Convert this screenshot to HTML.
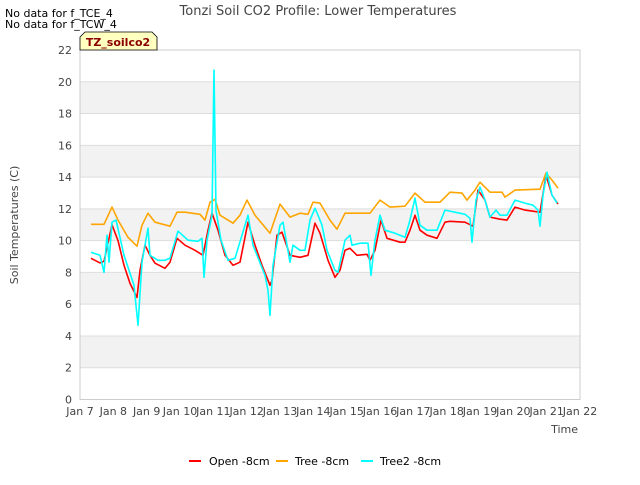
<!DOCTYPE html>
<html><head><meta charset="utf-8"><style>
body{margin:0;background:#fff;width:640px;height:480px;overflow:hidden}
svg{font-family:"DejaVu Sans","Liberation Sans",sans-serif}
</style></head><body>
<svg id="chart" width="640" height="480">
<text x="5" y="17" font-size="11" fill="#000">No data for f_TCE_4</text>
<text x="5" y="28" font-size="11" fill="#000">No data for f_TCW_4</text>
<text x="318" y="15" font-size="13" fill="#444" text-anchor="middle">Tonzi Soil CO2 Profile: Lower Temperatures</text>
<g id="bands"></g><g id="grid"></g><g id="series"></g>
<rect x="80" y="50" width="500" height="349.5" fill="none" stroke="#ccc"/>
<g id="yticks"></g><g id="xticks"></g>
<text transform="translate(18,225) rotate(-90)" font-size="11" fill="#444" text-anchor="middle">Soil Temperatures (C)</text>
<text x="578" y="433" font-size="11" fill="#444" text-anchor="end">Time</text>
<g>
<path d="M80,50 L80,37 L85,32 L152,32 L157,37 L157,50 Z" fill="#ffffc0" stroke="#000" stroke-width="0.8"/>
<text x="118" y="46" font-size="11" font-weight="bold" fill="#8b0000" text-anchor="middle">TZ_soilco2</text>
</g>
<g>
<g><line x1="189" y1="461" x2="201" y2="461" stroke="#f00" stroke-width="2"/><text x="209" y="465" font-size="11" fill="#000">Open -8cm</text></g>
<g><line x1="276" y1="461" x2="288" y2="461" stroke="#ffa500" stroke-width="2"/><text x="295" y="465" font-size="11" fill="#000">Tree -8cm</text></g>
<g><line x1="361" y1="461" x2="373" y2="461" stroke="#0ff" stroke-width="2"/><text x="380" y="465" font-size="11" fill="#000">Tree2 -8cm</text></g>
</g>
</svg>
<script>
const xTickLabels=["Jan 7","Jan 8","Jan 9","Jan 10","Jan 11","Jan 12","Jan 13","Jan 14","Jan 15","Jan 16","Jan 17","Jan 18","Jan 19","Jan 20","Jan 21","Jan 22"];
const yTicks=[0,2,4,6,8,10,12,14,16,18,20,22];
const openDays=[0.33,0.60,0.72,0.96,1.14,1.32,1.50,1.71,1.80,1.95,2.10,2.25,2.55,2.70,2.91,3.15,3.45,3.69,3.84,3.96,4.14,4.35,4.59,4.80,5.04,5.25,5.46,5.70,5.76,5.91,6.06,6.30,6.60,6.84,7.05,7.20,7.44,7.65,7.80,7.95,8.10,8.31,8.61,8.70,8.85,9.03,9.21,9.60,9.75,9.90,10.05,10.20,10.41,10.71,10.95,11.10,11.55,11.79,11.94,12.15,12.30,12.60,12.81,13.05,13.35,13.80,13.98,14.16,14.34];
const openVals=[8.89,8.6,8.7,11.0,10.0,8.45,7.31,6.43,8.13,9.71,9.08,8.58,8.26,8.64,10.15,9.71,9.39,9.08,10.66,11.73,10.66,9.08,8.45,8.64,11.16,9.71,8.45,7.19,7.5,10.34,10.53,9.08,8.95,9.08,11.1,10.47,8.76,7.69,8.13,9.39,9.52,9.08,9.14,8.76,9.39,11.29,10.15,9.9,9.9,10.66,11.6,10.66,10.34,10.15,11.16,11.22,11.16,10.91,13.18,12.55,11.48,11.35,11.29,12.11,11.92,11.79,14.12,12.86,12.3];
const treeDays=[0.33,0.72,0.96,1.14,1.44,1.71,1.86,2.04,2.25,2.70,2.91,3.15,3.60,3.75,3.90,4.05,4.20,4.59,4.80,5.01,5.25,5.70,6.00,6.30,6.60,6.84,6.99,7.20,7.50,7.71,7.95,8.25,8.70,9.00,9.30,9.75,10.05,10.35,10.80,11.10,11.46,11.61,11.85,12.00,12.30,12.66,12.75,13.05,13.80,13.98,14.16,14.34];
const treeVals=[11.03,11.03,12.11,11.29,10.21,9.65,10.97,11.73,11.16,10.91,11.79,11.79,11.66,11.29,12.42,12.6,11.6,11.1,11.6,12.55,11.6,10.47,12.3,11.48,11.73,11.66,12.42,12.36,11.29,10.72,11.73,11.73,11.73,12.55,12.11,12.17,12.99,12.42,12.42,13.05,12.99,12.55,13.18,13.68,13.05,13.05,12.74,13.18,13.24,14.25,13.81,13.3];
const tree2Days=[0.33,0.60,0.72,0.81,0.87,0.96,1.08,1.32,1.62,1.74,1.86,1.95,2.04,2.10,2.34,2.55,2.70,2.94,3.24,3.54,3.66,3.72,3.81,3.96,4.02,4.08,4.23,4.44,4.65,4.95,5.04,5.19,5.55,5.64,5.70,5.79,6.00,6.09,6.30,6.39,6.60,6.75,6.90,7.05,7.14,7.26,7.41,7.65,7.74,7.95,8.10,8.16,8.40,8.64,8.73,8.85,9.00,9.15,9.45,9.75,9.90,10.05,10.20,10.41,10.71,10.95,11.25,11.55,11.70,11.76,11.88,12.00,12.15,12.30,12.48,12.60,12.81,13.05,13.35,13.59,13.74,13.80,13.89,14.01,14.16,14.31];
const tree2Vals=[9.27,9.08,8.01,10.34,8.64,11.16,11.29,9.08,7.19,4.67,8.64,9.71,10.78,9.08,8.76,8.76,8.89,10.6,10.03,9.96,10.15,7.69,10.03,11.6,20.74,11.9,10.03,8.76,8.89,10.97,11.6,9.71,7.82,6.87,5.3,8.45,10.97,11.16,8.64,9.71,9.39,9.39,11.29,12.04,11.6,10.97,9.39,8.13,8.01,10.03,10.34,9.71,9.84,9.84,7.82,10.03,11.6,10.66,10.47,10.21,11.29,12.67,10.97,10.66,10.66,11.92,11.79,11.66,11.41,9.9,12.55,13.37,12.55,11.48,11.92,11.6,11.6,12.55,12.36,12.23,11.92,10.91,12.86,14.31,12.86,12.36];

const NS='http://www.w3.org/2000/svg';
const X0=80,X1=580,Y0=399.5,Y1=50;
const xs=d=>X0+d*(X1-X0)/15;
const ys=v=>Y0-v*(Y0-Y1)/22;
function el(tag,attrs,parent){const e=document.createElementNS(NS,tag);for(const k in attrs)e.setAttribute(k,attrs[k]);parent.appendChild(e);return e;}
const bands=document.getElementById('bands'),grid=document.getElementById('grid'),yt=document.getElementById('yticks'),xt=document.getElementById('xticks'),ser=document.getElementById('series');
for(let i=0;i<yTicks.length;i++){
  const v=yTicks[i];
  if(i<yTicks.length-1 && i%2===1){
    const b=el('rect',{x:X0,y:ys(yTicks[i+1]),width:X1-X0,height:ys(v)-ys(yTicks[i+1]),fill:'#f2f2f2'},bands);
    
    
  }
  const g=el('line',{x1:X0,x2:X1,y1:ys(v),y2:ys(v),stroke:'#ddd','stroke-width':1},grid);
  
  
  const t=el('text',{x:72,y:ys(v)+4,'font-size':11,fill:'#444','text-anchor':'end'},yt);
  t.textContent=v;
  
  
}
xTickLabels.forEach((s,i)=>{
  const t=el('text',{x:xs(i),y:415,'font-size':11,fill:'#444','text-anchor':'middle'},xt);
  t.textContent=s;
  
  
});
function line(days,vals,color,name){
  const p=el('polyline',{points:days.map((d,i)=>xs(d).toFixed(1)+','+ys(vals[i]).toFixed(1)).join(' '),fill:'none',stroke:color,'stroke-width':1.6,'stroke-linejoin':'round'},ser);
  
  
}
line(openDays,openVals,'#ff0000','series-open-8cm');
line(treeDays,treeVals,'#ffa500','series-tree-8cm');
line(tree2Days,tree2Vals,'#00ffff','series-tree2-8cm');
</script>
</body></html>
